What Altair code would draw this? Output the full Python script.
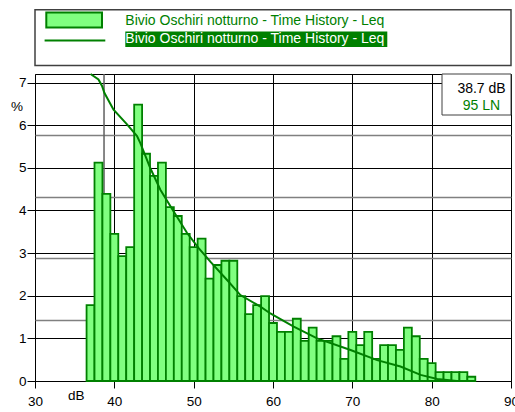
import altair as alt
import pandas as pd

# Level distribution (1 dB classes, % of time) and cumulative exceedance curve
levels = list(range(37, 86))
pct = [1.78, 5.12, 4.39, 3.45, 2.93, 3.14, 6.48, 5.33, 4.81, 5.12,
       4.08, 3.87, 3.45, 3.14, 3.34, 2.40, 2.72, 2.82, 2.82, 1.99,
       1.57, 1.78, 1.99, 1.36, 1.15, 1.15, 1.46, 0.94, 1.25, 0.94,
       0.94, 1.05, 0.52, 1.15, 0.84, 1.15, 0.52, 0.84, 0.84, 0.73,
       1.25, 1.05, 0.52, 0.42, 0.21, 0.21, 0.21, 0.21, 0.10]

curve_db = [37.0, 38.0, 38.45, 38.74, 39.9, 41.6, 42.86, 43.28, 44.54, 45.8,
            47.48, 49.17, 50.63, 52.1, 54.21, 55.89, 58.41, 59.67, 62.61, 65.56,
            69.77, 73.13, 76.07, 78.6, 80.7, 83.2]
curve_pct = [100, 98.2, 96.1, 93.9, 88.4, 83.6, 79.8, 77.5, 69.3, 62.3,
             55.2, 48.2, 43.3, 38.9, 32.9, 28.0, 24.2, 22.0, 17.7, 13.9,
             10.1, 6.8, 4.7, 2.0, 0.65, 0.0]

x_ticks = [30, 40, 50, 60, 70, 80, 90]
y_ticks = [0, 1, 2, 3, 4, 5, 6, 7]
cum_grid = [20, 40, 60, 80]

l95 = 38.7
ln_label = "95 LN"
series_name = "Bivio Oschiri notturno - Time History - Leq"

FONT = "Liberation Sans"
GREEN = "#008000"
LIGHT = "#80FF80"

W, H = 476, 307

bars_df = pd.DataFrame({"level": levels, "pct": pct})
curve_df = pd.DataFrame({"db": curve_db, "cum": curve_pct})
one = pd.DataFrame({"k": [0]})

x_scale = alt.Scale(domain=[30, 90], nice=False, zero=False)
x_axis = alt.Axis(values=x_ticks, grid=True, gridColor="#000", gridWidth=1,
                  tickSize=7, tickColor="#000", labelPadding=6,
                  labelFontSize=13.5, labelFont=FONT, labelColor="#000",
                  labelFlush=False, labelOverlap=False, labelBound=False,
                  domain=False, title=None)
y_axis = alt.Axis(values=y_ticks, grid=True, gridColor="#000", gridWidth=1,
                  tickSize=8, tickColor="#000", labelPadding=1,
                  labelFontSize=13.5, labelFont=FONT, labelColor="#000",
                  labelFlush=False, labelOverlap=False, domain=False, title=None)
cum_axis = alt.Axis(orient="right", values=cum_grid, grid=True,
                    gridColor="#808080", gridWidth=1.5, labels=False,
                    ticks=False, domain=False, title=None)

l95_rule = alt.Chart(one).mark_rule(color="#606060", strokeWidth=1.5).encode(
    x=alt.datum(l95, scale=x_scale, axis=x_axis)
)

bars = alt.Chart(bars_df).transform_calculate(
    lo="datum.level - 0.5", hi="datum.level + 0.5"
).mark_rect(fill=LIGHT, stroke=GREEN, strokeWidth=1.8).encode(
    x=alt.X("lo:Q", scale=x_scale, axis=x_axis),
    x2="hi:Q",
    y=alt.Y("pct:Q", scale=alt.Scale(domain=[0, 7.2], nice=False), axis=y_axis),
    y2=alt.datum(0),
)

curve = alt.Chart(curve_df).mark_line(color=GREEN, strokeWidth=2).encode(
    x=alt.X("db:Q", scale=x_scale, axis=x_axis),
    y=alt.Y("cum:Q", scale=alt.Scale(domain=[0, 100], nice=False), axis=cum_axis),
)

# Result box in the upper right corner
box = alt.Chart(one).mark_rect(fill="white", stroke="#404040", strokeWidth=1).encode(
    x=alt.value(407), x2=alt.value(W), y=alt.value(0), y2=alt.value(41)
)
box_val = alt.Chart(one).mark_text(align="center", baseline="alphabetic",
                                   fontSize=14, font=FONT, color="#000").encode(
    x=alt.value(446.5), y=alt.value(18.5), text=alt.value(f"{l95} dB")
)
box_ln = alt.Chart(one).mark_text(align="center", baseline="alphabetic",
                                  fontSize=14, font=FONT, color=GREEN).encode(
    x=alt.value(446.5), y=alt.value(36), text=alt.value(ln_label)
)

# Axis unit labels
pct_lbl = alt.Chart(one).mark_text(align="center", baseline="middle",
                                   fontSize=13.5, font=FONT, color="#000").encode(
    x=alt.value(-18), y=alt.value(32.5), text=alt.value("%")
)
db_lbl = alt.Chart(one).mark_text(align="center", baseline="alphabetic",
                                  fontSize=13.5, font=FONT, color="#000").encode(
    x=alt.value(41.3), y=alt.value(325.7), text=alt.value("dB")
)

# Legend panel above the plot
leg_box = alt.Chart(one).mark_rect(fill="white", stroke="#404040", strokeWidth=1.5).encode(
    x=alt.value(0), x2=alt.value(W), y=alt.value(-64.3), y2=alt.value(-8.6)
)
leg_swatch = alt.Chart(one).mark_rect(fill=LIGHT, stroke=GREEN, strokeWidth=2).encode(
    x=alt.value(11.3), x2=alt.value(67), y=alt.value(-61.6), y2=alt.value(-46.6)
)
leg_text1 = alt.Chart(one).mark_text(align="left", baseline="alphabetic",
                                     fontSize=14, font=FONT, color=GREEN).encode(
    x=alt.value(90.3), y=alt.value(-49), text=alt.value(series_name)
)
leg_line = alt.Chart(one).mark_rule(color=GREEN, strokeWidth=2).encode(
    x=alt.value(9.6), x2=alt.value(70.3), y=alt.value(-33.6)
)
leg_hl = alt.Chart(one).mark_rect(fill=GREEN, stroke=None).encode(
    x=alt.value(90.3), x2=alt.value(352.3), y=alt.value(-42.6), y2=alt.value(-27)
)
leg_text2 = alt.Chart(one).mark_text(align="left", baseline="alphabetic",
                                     fontSize=14, font=FONT, color="white").encode(
    x=alt.value(90.3), y=alt.value(-30.7), text=alt.value(series_name)
)

chart = alt.layer(
    l95_rule, bars, curve, box, box_val, box_ln, pct_lbl, db_lbl,
    leg_box, leg_swatch, leg_text1, leg_line, leg_hl, leg_text2,
).resolve_scale(y="independent").properties(
    width=W, height=H,
    padding={"left": 35, "top": 74, "right": 4, "bottom": 31},
    autosize=alt.AutoSizeParams(type="none"),
    background="white",
).configure_view(stroke="#000", strokeWidth=1)

chart.save("out.html", embed_options={"renderer": "svg", "actions": False})
